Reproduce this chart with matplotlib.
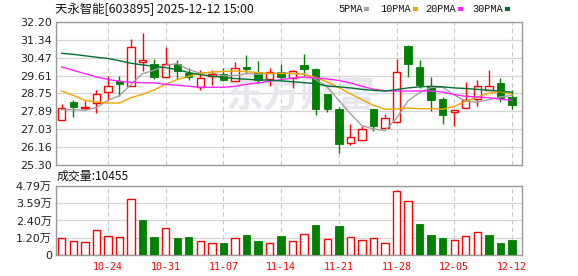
import numpy as np
import matplotlib
matplotlib.use('Agg')
import matplotlib.pyplot as plt

# =========================
# data
# =========================
dates = ['10-20', '10-21', '10-22', '10-23', '10-24',
         '10-27', '10-28', '10-29', '10-30', '10-31',
         '11-03', '11-04', '11-05', '11-06', '11-07',
         '11-10', '11-11', '11-12', '11-13', '11-14',
         '11-17', '11-18', '11-19', '11-20', '11-21',
         '11-24', '11-25', '11-26', '11-27', '11-28',
         '12-01', '12-02', '12-03', '12-04', '12-05',
         '12-08', '12-09', '12-10', '12-11', '12-12']
label_dates = ['10-24', '10-31', '11-07', '11-14', '11-21', '11-28', '12-05', '12-12']

opens = [27.46, 28.33, 28.07, 28.29, 28.84, 29.34, 29.13, 30.26, 30.19, 29.56,
         30.19, 29.76, 29.07, 29.60, 29.71, 29.37, 30.01, 29.81, 29.45, 29.81,
         29.52, 30.13, 29.95, 28.71, 28.00, 26.38, 26.53, 27.99, 27.10, 27.39,
         31.03, 30.01, 29.13, 28.49, 27.84, 28.07, 28.49, 28.91, 29.24, 28.57]
closes = [28.07, 28.08, 28.12, 28.74, 29.13, 29.23, 31.01, 30.35, 29.55, 30.19,
          29.84, 29.55, 29.52, 29.68, 29.39, 29.98, 29.92, 29.42, 29.81, 29.55,
          29.84, 29.93, 28.00, 27.99, 26.32, 26.67, 27.02, 27.18, 27.59, 29.81,
          30.19, 29.18, 28.45, 27.71, 27.97, 28.45, 29.13, 29.13, 28.55, 28.20]
highs = [28.26, 28.42, 28.37, 28.91, 29.58, 29.58, 31.40, 31.67, 30.43, 31.00,
         30.35, 30.00, 29.90, 29.87, 30.00, 30.26, 30.61, 30.30, 29.97, 30.19,
         29.90, 30.64, 29.97, 28.71, 28.10, 27.30, 27.17, 27.99, 27.78, 30.40,
         31.08, 30.35, 29.55, 28.58, 27.97, 29.29, 29.39, 29.90, 29.52, 28.94]
lows = [27.46, 27.62, 27.94, 27.81, 28.46, 28.62, 29.13, 29.84, 29.45, 29.56,
        29.45, 29.39, 28.94, 29.18, 29.36, 29.37, 29.74, 29.26, 29.13, 29.45,
        29.02, 29.58, 27.71, 27.84, 25.88, 26.27, 26.53, 26.94, 27.10, 27.39,
        29.55, 29.02, 27.91, 27.28, 27.20, 28.07, 28.13, 28.91, 28.33, 28.00]

ma5 = [27.97, 27.97, 27.94, 28.07, 28.42, 28.65, 29.19, 29.71, 29.87, 30.11,
       30.19, 29.90, 29.73, 29.76, 29.60, 29.62, 29.70, 29.68, 29.70, 29.74,
       29.71, 29.71, 29.43, 29.06, 28.42, 27.78, 27.20, 27.04, 26.96, 27.55,
       28.40, 28.79, 29.04, 29.05, 28.68, 28.38, 28.34, 28.45, 28.58, 28.66]
ma10 = [28.87, 28.66, 28.42, 28.34, 28.29, 28.29, 28.55, 28.71, 28.92, 29.20,
        29.42, 29.58, 29.72, 29.79, 29.81, 29.84, 29.80, 29.76, 29.72, 29.71,
        29.72, 29.68, 29.52, 29.31, 29.03, 28.74, 28.45, 28.18, 27.99, 28.00,
        28.05, 28.02, 28.02, 27.99, 28.13, 28.37, 28.58, 28.76, 28.84, 28.72]
ma20 = [30.03, 29.87, 29.71, 29.55, 29.43, 29.34, 29.29, 29.27, 29.26, 29.19,
        29.15, 29.10, 29.05, 29.05, 29.05, 29.10, 29.19, 29.26, 29.34, 29.42,
        29.50, 29.54, 29.50, 29.45, 29.38, 29.26, 29.10, 28.96, 28.88, 28.87,
        28.87, 28.87, 28.87, 28.82, 28.70, 28.61, 28.58, 28.55, 28.47, 28.42]
ma30 = [30.69, 30.64, 30.57, 30.50, 30.44, 30.33, 30.21, 30.13, 30.06, 30.00,
        29.90, 29.76, 29.66, 29.59, 29.53, 29.47, 29.44, 29.41, 29.39, 29.36,
        29.32, 29.27, 29.23, 29.11, 29.07, 29.02, 28.95, 28.90, 28.87, 28.94,
        29.02, 29.07, 29.10, 29.07, 29.02, 28.99, 28.95, 28.90, 28.87, 28.81]

volumes = [11590, 9500, 8800, 17350, 12970, 12270, 38650, 24300, 12500, 18500,
           11800, 12270, 9500, 8100, 8100, 11590, 13670, 9720, 8100, 13190,
           9500, 14800, 20830, 10880, 20130, 12270, 10180, 11590, 8100, 44200,
           37260, 21520, 13880, 11800, 10180, 12970, 15750, 13880, 8330, 10455]
# volume bar colour: 1 = close above previous close (red), 0 = below (green)
vol_up = [1, 1, 1, 1, 1, 1, 1, 0, 0, 1, 0, 0, 1, 1, 0, 1, 0, 0, 1, 0,
          1, 1, 0, 1, 0, 1, 1, 1, 1, 1, 1, 0, 0, 0, 1, 1, 1, 0, 0, 0]

price_ticks = [25.30, 26.16, 27.03, 27.89, 28.75, 29.61, 30.47, 31.34, 32.20]
vol_ticks = [0, 11975, 23950, 35925, 47900]
vol_labels = ['0', '1.20万', '2.40万', '3.59万', '4.79万']

ma_names = ['5PMA', '10PMA', '20PMA', '30PMA']
ma_colors = ['#a0a0a0', '#f5a300', '#ff22ff', '#007030']

RED = '#ff0000'
GREEN = '#008000'
GRID = '#d4d4d4'
FRAME = '#9a9a9a'
CJK = ['Noto Sans CJK SC', 'DejaVu Sans']
TICKF = ['DejaVu Sans', 'Noto Sans CJK SC']

# =========================
# figure layout
# =========================
fig = plt.figure(figsize=(5.78, 2.76), dpi=100)
ax = fig.add_axes([0.0969, 0.4022, 0.8062, 0.5181])
axv = fig.add_axes([0.0969, 0.0761, 0.8062, 0.2500])

x = np.arange(len(dates))
tick_pos = [dates.index(d) for d in label_dates]
xmin, xmax = -0.5, 39.87
bw = 0.64

for a in (ax, axv):
    a.set_xlim(xmin, xmax)
    for s in a.spines.values():
        s.set_color(FRAME)
        s.set_linewidth(1.0)
    a.set_axisbelow(True)
    for p in tick_pos:
        a.axvline(p, color='#c8c8c8', lw=0.8, ls=(0, (4, 3)), zorder=0)
    a.tick_params(axis='both', length=0, pad=3)

# =========================
# price panel
# =========================
ax.set_ylim(price_ticks[0], price_ticks[-1])
ax.set_yticks(price_ticks)
ax.set_yticklabels(['%.2f' % t for t in price_ticks], fontsize=8,
                   color='#222222', family=TICKF)
ax.set_xticks([])
for t in price_ticks:
    ax.axhline(t, color=GRID, lw=0.9, zorder=0)

# watermark
ax.text(0.525, 0.48, '东方财富', transform=ax.transAxes, fontsize=27,
        color='#e6e6ec', ha='center', va='center', family=CJK,
        fontweight='bold', zorder=0.5)

for i in x:
    o, c, h, l = opens[i], closes[i], highs[i], lows[i]
    if c >= o:
        ax.vlines(i, l, h, color=RED, lw=1.0, zorder=2)
        ax.bar(i, max(c - o, 0.03), bottom=o, width=bw, facecolor='white',
               edgecolor=RED, linewidth=1.0, zorder=3)
    else:
        ax.vlines(i, l, h, color=GREEN, lw=1.0, zorder=2)
        ax.bar(i, max(o - c, 0.03), bottom=c, width=bw, facecolor=GREEN,
               edgecolor=GREEN, linewidth=0.6, zorder=3)

for vals, col in zip([ma5, ma10, ma20, ma30], ma_colors):
    ax.plot(x, vals, color=col, lw=1.0, zorder=4)

# header texts
fig.text(55 / 578, 1 - 9 / 276, '天永智能[603895] 2025-12-12 15:00',
         fontsize=8.9, family=CJK, va='center', ha='left', color='#111111')
leg_x = [338, 380, 425, 472]
for name, col, lx in zip(ma_names, ma_colors, leg_x):
    fig.text(lx / 578, 1 - 9.5 / 276, name, fontsize=7.4,
             family='Liberation Mono', va='center', ha='left',
             color='#111111')
    fig.patches.append(plt.Rectangle(((lx + len(name) * 6.1 + 2) / 578, 1 - 10.5 / 276),
                                     5 / 578, 3 / 276, transform=fig.transFigure,
                                     facecolor=col, edgecolor='none'))

# =========================
# volume panel
# =========================
axv.set_ylim(0, vol_ticks[-1])
axv.set_yticks(vol_ticks)
axv.set_yticklabels(vol_labels, fontsize=8, color='#222222', family=TICKF)
for t in vol_ticks:
    axv.axhline(t, color=GRID, lw=0.9, zorder=0)
axv.set_xticks(tick_pos)
axv.set_xticklabels(label_dates, fontsize=7.2, color=RED,
                    family='DejaVu Sans Mono')
axv.tick_params(axis='x', pad=5)

for i in x:
    if vol_up[i]:
        axv.bar(i, volumes[i], width=bw, facecolor='white', edgecolor=RED,
                linewidth=1.0, zorder=3)
    else:
        axv.bar(i, volumes[i], width=bw, facecolor=GREEN, edgecolor=GREEN,
                linewidth=0.6, zorder=3)

fig.text(57 / 578, 1 - 176 / 276, '成交量:%d' % volumes[-1], fontsize=8.6,
         family=CJK, va='center', ha='left', color='#111111')

fig.savefig('out.png', dpi=100)
